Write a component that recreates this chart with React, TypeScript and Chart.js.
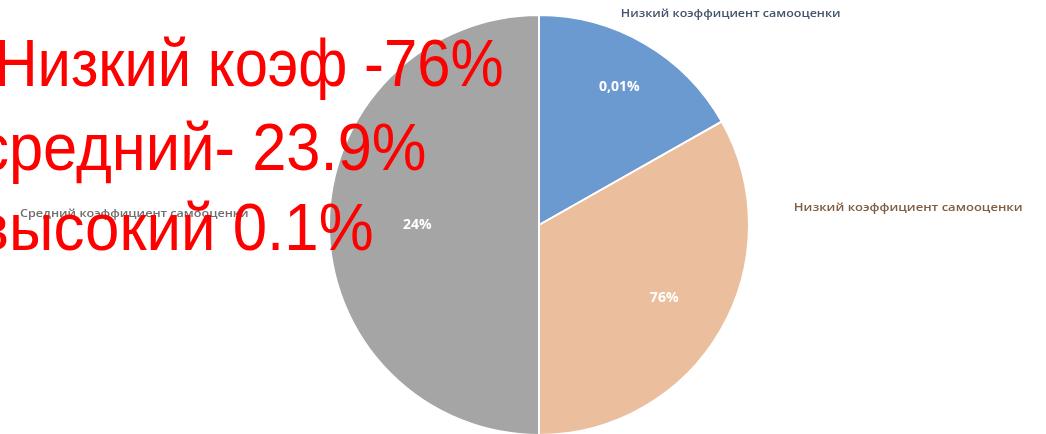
import React, { useEffect, useRef } from "react";
import { Chart, registerables } from "chart.js";

Chart.register(...registerables);

// ---- data ----
const categories = [
  "Низкий коэффициент самооценки",
  "Низкий коэффициент самооценки",
  "Средний коэффициент самооценки",
];
const sliceShares = [16.8, 33.2, 50];
const valueLabels = ["0,01%", "76%", "24%"];
const overlayLines = ["Низкий коэф -76%", "средний- 23.9%", "высокий 0.1%"];

// ---- styles / layout ----
const sliceColors = ["#6A9ACF", "#EBBF9D", "#A5A5A5"];
const categoryLabelColors = ["#44546A", "#805C40", "#6F6F6F"];
const categoryLabelBoxes = [
  { left: 622, right: 840, baseline: 17 },
  { left: 795, right: 1022, baseline: 211 },
  { left: 20, right: 248, baseline: 217 },
];
const valueLabelRadius = [0.76, 0.69, 0.58];
const overlayBoxes = [
  { left: -1, right: 502, baseline: 86 },
  { left: -20, right: 425, baseline: 170 },
  { left: -20, right: 372, baseline: 250 },
];

function fitText(
  ctx: CanvasRenderingContext2D,
  text: string,
  left: number,
  right: number,
  baseline: number,
  font: string,
  color: string
) {
  ctx.save();
  ctx.font = font;
  ctx.fillStyle = color;
  ctx.textAlign = "left";
  ctx.textBaseline = "alphabetic";
  const m = ctx.measureText(text);
  const inkW = m.actualBoundingBoxLeft + m.actualBoundingBoxRight;
  const s = (right - left) / inkW;
  ctx.translate(left, baseline);
  ctx.scale(s, 1);
  ctx.fillText(text, m.actualBoundingBoxLeft, 0);
  ctx.restore();
}

const overlayPlugin = {
  id: "overlayTexts",
  afterDraw(chart: any) {
    const ctx: CanvasRenderingContext2D = chart.ctx;
    const meta = chart.getDatasetMeta(0);

    // value labels inside slices
    meta.data.forEach((arc: any, i: number) => {
      const p = arc.getProps(["x", "y", "startAngle", "endAngle", "outerRadius"], true);
      const mid = (p.startAngle + p.endAngle) / 2;
      const r = p.outerRadius * valueLabelRadius[i];
      ctx.save();
      ctx.font = "bold 14px 'Open Sans'";
      ctx.fillStyle = "#FFFFFF";
      ctx.textAlign = "center";
      ctx.textBaseline = "middle";
      ctx.fillText(valueLabels[i], p.x + Math.cos(mid) * r, p.y + Math.sin(mid) * r);
      ctx.restore();
    });

    // category labels outside
    categories.forEach((c, i) => {
      const b = categoryLabelBoxes[i];
      fitText(ctx, c, b.left, b.right, b.baseline, "600 11px 'Open Sans'", categoryLabelColors[i]);
    });

    // big red overlay text
    overlayLines.forEach((line, i) => {
      const b = overlayBoxes[i];
      fitText(ctx, line, b.left, b.right, b.baseline, "66px 'Liberation Sans'", "#FF0000");
    });
  },
};

export default function App() {
  const ref = useRef<HTMLCanvasElement | null>(null);

  useEffect(() => {
    if (!ref.current) return;
    const chart = new Chart(ref.current, {
      type: "pie",
      data: {
        labels: categories,
        datasets: [
          {
            data: sliceShares,
            backgroundColor: sliceColors,
            borderColor: "#FFFFFF",
            borderWidth: 2,
          },
        ],
      },
      options: {
        responsive: false,
        animation: false,
        devicePixelRatio: 1,
        layout: { padding: { top: 14, bottom: 4, left: 328, right: 296 } },
        plugins: {
          legend: { display: false },
          tooltip: { enabled: false },
          title: { display: false },
        },
      },
      plugins: [overlayPlugin],
    });
    return () => chart.destroy();
  }, []);

  return (
    <div
      style={{
        position: "absolute",
        left: 0,
        top: 0,
        width: 1046,
        height: 434,
        overflow: "hidden",
        background: "#FFFFFF",
      }}
    >
      <canvas ref={ref} width={1046} height={440} style={{ display: "block" }} />
    </div>
  );
}
